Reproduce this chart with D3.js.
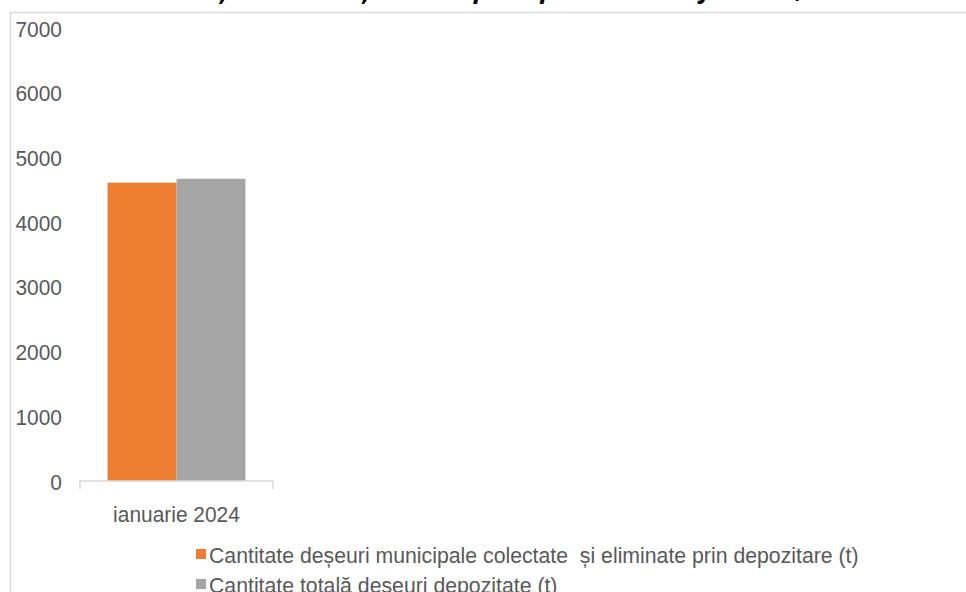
<!DOCTYPE html>
<html><head><meta charset="utf-8">
<script src="https://cdn.jsdelivr.net/npm/d3@7"></script>
<style>
html,body{margin:0;padding:0;background:#fff;overflow:hidden;}
text{font-family:"Liberation Sans",Arial,sans-serif;}
</style></head>
<body>
<svg id="c" width="966" height="592"></svg>
<script>
const titleText = "Cantitatea de deșeuri colectate și eliminate prin depozitare vs. total jud. Vaslui, ianuarie 2024";
const categories = ["ianuarie 2024"];
const seriesNames = ["Cantitate deșeuri municipale colectate  și eliminate prin depozitare (t)", "Cantitate totală deșeuri depozitate (t)"];
const seriesColors = ["#ed7d31", "#a5a5a5"];
const seriesValues = [[4610], [4670]];
const yTicks = [0, 1000, 2000, 3000, 4000, 5000, 6000, 7000];

const svg = d3.select("#c");
const W = 966, H = 592;
const FS = "22.5px", SX = 0.93, SXL = 0.945, TXT = "#595959";

// title (cut off at top, as in the reference)
svg.append("text").attr("x", 58).attr("y", -2)
  .attr("textLength", 880).attr("lengthAdjust", "spacing")
  .style("font-family", "'Open Sans', 'DejaVu Sans', sans-serif")
  .style("font-weight", "bold").style("font-style", "italic")
  .style("font-size", "26px").attr("fill", "#000").text(titleText);

// border
svg.append("path").attr("d", `M10.5,${H} L10.5,12.5 L${W},12.5`)
  .attr("fill", "none").attr("stroke", "#d9d9d9").attr("stroke-width", 1.5);

const plot = {left: 80, right: 273, top: 28, bottom: 481};
const y = d3.scaleLinear().domain([0, 7000]).range([plot.bottom, plot.top]);
const x0 = d3.scaleBand().domain(categories).range([plot.left, plot.right]).paddingInner(0).paddingOuter(0.2);
const x1 = d3.scaleBand().domain(d3.range(seriesNames.length)).range([0, x0.bandwidth()]).padding(0);

// bars
categories.forEach((c, ci) => {
  seriesNames.forEach((s, si) => {
    svg.append("rect")
      .attr("x", x0(c) + x1(si)).attr("width", x1.bandwidth())
      .attr("y", y(seriesValues[si][ci])).attr("height", y(0) - y(seriesValues[si][ci]))
      .attr("fill", seriesColors[si]);
  });
});

// y axis labels
const yAxis = d3.axisLeft(y).tickValues(yTicks).tickSize(0).tickPadding(0).tickFormat(d3.format("d"));
const ya = svg.append("g").attr("transform", "translate(62,0)").call(yAxis);
ya.select(".domain").remove();
ya.selectAll(".tick text").each(function() {
  d3.select(this).attr("x", 0).attr("dy", null).attr("y", 8)
    .attr("transform", `scale(${SX},1)`)
    .attr("fill", TXT).style("font-size", FS).style("font-family", "'Liberation Sans',Arial,sans-serif");
});

// x axis
const xAxis = d3.axisBottom(x0).tickSize(0).tickPadding(0);
const xa = svg.append("g").attr("transform", `translate(0,${plot.bottom})`).call(xAxis);
xa.select(".domain").attr("d", `M${plot.left},8V0H${plot.right}V8`).attr("stroke", "#d9d9d9").attr("stroke-width", 1.5).attr("fill", "none");
xa.selectAll(".tick text").attr("fill", TXT).style("font-size", FS)
  .style("font-family", "'Liberation Sans',Arial,sans-serif")
  .attr("y", 41).attr("dy", null).attr("transform", `scale(${SX},1)`);

// legend
const lg = svg.append("g");
seriesNames.forEach((s, i) => {
  const yy = 549 + i * 30;
  lg.append("rect").attr("x", 196).attr("y", yy).attr("width", 10).attr("height", 10).attr("fill", seriesColors[i]);
  lg.append("text").attr("transform", `translate(209,${yy + 14}) scale(${SXL},1)`).attr("fill", TXT)
    .style("font-size", FS).style("white-space", "pre")
    .style("font-family", "'Liberation Sans',Arial,sans-serif").text(s);
});
</script>
</body></html>
